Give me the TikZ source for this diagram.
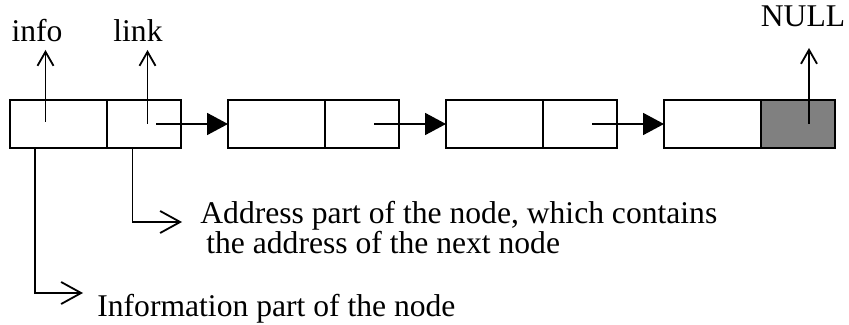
\documentclass[tikz,border=0pt]{standalone}
\usepackage{fontspec}
\setmainfont{Liberation Serif}
\usetikzlibrary{positioning, arrows.meta, math, calc}
\definecolor{nullgray}{RGB}{128,128,128}

\begin{document}
\begin{tikzpicture}[x=0.5pt,y=-0.5pt,
  cell/.style={draw, line width=1.1pt, minimum height=24pt, inner sep=0pt, outer sep=0pt},
  infocell/.style={cell, minimum width=48.5pt},
  linkcell/.style={cell, minimum width=37pt},
  lbl/.style={font=\fontsize{15.8}{15}\selectfont, inner sep=0pt},
  nextptr/.style={-{Triangle[length=10.5pt,width=11pt]}, line width=0.9pt},
  uparrow/.style={-{Straight Barb[length=7pt,width=8pt]}, line width=0.9pt},
  callout/.style={-{Straight Barb[length=10pt,width=11pt]}, line width=0.9pt}]
\tikzmath{
\gap=218;
\yc=124;
}
\useasboundingbox (0,0) rectangle (849,325);

%nodes of the list
\foreach \i in {1,...,4}{
  \node[infocell] (i\i) at ({10+\gap*(\i-1)+48.5},\yc) {};
}
\foreach \i in {1,...,3}{
  \node[linkcell, right=0pt of i\i] (l\i) {};
}
\node[linkcell, fill=nullgray, right=0pt of i4] (l4) {};

%pointers to next node
\foreach \i/\j in {1/2,2/3,3/4}{
  \draw[nextptr] ([xshift=6pt]l\i.center) -- (i\j.west);
}

%labels above
\node[lbl, anchor=base] (info) at (37,42) {info};
\node[lbl, anchor=base] (link) at (138,42) {link};
\node[lbl, anchor=base] (null) at (803,27) {NULL};

\draw[uparrow] ($(i1.center)+(-13,-2)$) -- ($(i1.center |- info.base)+(-13,8)$);
\draw[uparrow] ($(l1.center)+(3.5,0)$) -- ($(l1.center |- link.base)+(3.5,8)$);
\draw[uparrow] ($(l4.center)+(11,0)$) -- ($(l4.center |- null.base)+(11,21)$);

%explanations below
\node[lbl, anchor=north west, align=left] (addrtxt) at (200,201)
  {Address part of the node, which contains\\\hspace{3pt}the address of the next node};
\node[lbl, anchor=base west] (infotxt) at (97,316) {Information part of the node};
\coordinate (addrend) at (182,222);
\coordinate (infoend) at (83,293);

\draw[callout] ([xshift=-5.75pt]l1.south) |- (addrend);
\draw[callout] ([xshift=-11.75pt]i1.south) |- (infoend);
\end{tikzpicture}
\end{document}
